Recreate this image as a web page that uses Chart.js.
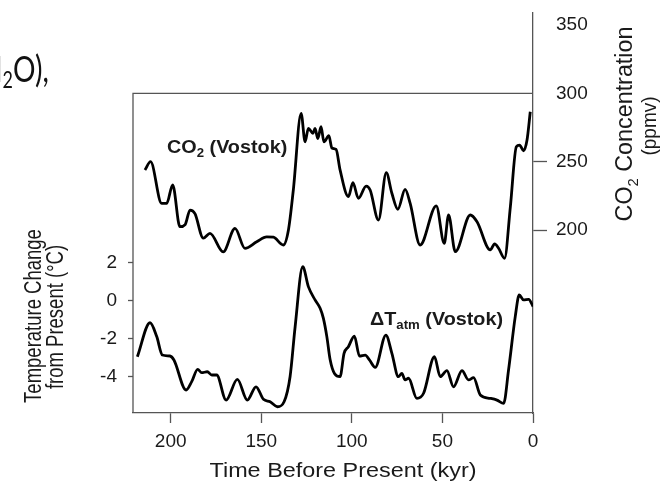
<!DOCTYPE html>
<html>
<head>
<meta charset="utf-8">
<script src="https://cdn.jsdelivr.net/npm/chart.js@4.4.1/dist/chart.umd.min.js"></script>
<style>
  html, body { margin: 0; padding: 0; background: #fff; }
  #wrap { width: 668px; height: 487px; }
</style>
</head>
<body>
<div id="wrap"><canvas id="chart" width="668" height="487"></canvas></div>
<script>
// tick values
const timeTicks = [0, 50, 100, 150, 200];
const tempTicks = [-4, -2, 0, 2];
const co2Ticks = [200, 250, 300, 350];

// CO2 (Vostok), kyr before present / ppmv
const co2Kyr = [214.2, 211.1, 205, 202.2, 198.9, 194.9, 192, 189.3, 186.6, 182, 178.3, 171, 164.5, 159,
    152.5, 147, 143.3, 137.8, 135, 132.3, 128, 125.8, 124, 121.5, 120.3, 118.8, 117, 115.4, 112.7, 111,
    108.7, 106.5, 101.9, 99.4, 96.4, 92.1, 89.9, 85.3, 81, 77.9, 74.6, 70.6, 67.8, 62.3, 53.4, 49, 46.6,
    42.9, 34.6, 30.9, 23.6, 21.2, 19, 15.7, 12.5, 9.2, 7.4, 5.2, 3.3, 1.5];
const co2Ppm = [243.9, 250, 219.5, 219.5, 233, 202.4, 204, 214.6, 212, 194, 197.6, 184, 201.2, 186.6,
    191.4, 195, 194.7, 189, 200, 229.3, 285.4, 264.6, 274.4, 270.8, 274.4, 267, 275.6, 264.5, 269, 260,
    259, 244, 224.4, 234.6, 223.2, 232.2, 229.3, 207.3, 242, 226.9, 215.2, 229.8, 219.5, 189, 217.6, 190.2, 211,
    184.1, 211, 206, 185.4, 189.8, 186.6, 179.3, 217, 261, 262.2, 258, 265.9, 286.6];

// Delta T atm (Vostok), kyr before present / degC
const tempKyr = [218.4, 211.4, 207.7, 204.6, 200.4, 198.2, 191.5, 188.4, 185.1, 182.9, 179.8, 177.3, 174.6,
    169.4, 163.2, 157.7, 152.9, 148.8, 145.1, 141.1, 137.4, 134.1, 131.3, 127.1, 124, 120.3, 117.5, 115.7,
    113.8, 112, 109.5, 106.5, 104.3, 101.9, 98.6, 95.8, 92.6, 90.3, 87.1, 81.2, 77.9, 74.3, 72.4, 70.6, 68.7,
    64.1, 60.4, 54.4, 51.2, 47.5, 43.9, 39.2, 35.6, 32.8, 29.1, 23.6, 19.9, 16.2, 13.5, 9.8, 7.6, 5.2, 2.4, 0];
const tempC = [-2.95, -1.16, -1.89, -2.86, -2.91, -3.12, -4.7, -4.26, -3.61, -3.79, -3.74, -3.91, -3.91,
    -5.23, -4.14, -5.23, -4.53, -5.19, -5.32, -5.58, -5.32, -4.0, -1.37, 1.79, 0.74, 0.04, -0.4, -0.93,
    -1.89, -3.1, -3.85, -4.0, -2.77, -2.42, -1.86, -2.91, -2.86, -3.12, -3.51, -1.81, -2.77, -4.0, -3.82, -4.17, -4.08,
    -5.14, -4.87, -2.95, -4.0, -3.68, -4.53, -3.68, -4.17, -4.05, -4.96, -5.14, -5.23, -5.4, -3.65, -0.84, 0.3, 0.04, 0.07, -0.3];

const FONT = '"Liberation Sans", Arial, Helvetica, sans-serif';
const INK = '#1a1a1a';
const AXIS = '#555';
const SX = 1.1; // the figure's lettering is a bit wide

function pairs(xs, ys) {
    return xs.map((x, i) => ({ x: x, y: ys[i] }));
}

function fixTicks(values) {
    return scale => { scale.ticks = values.map(v => ({ value: v })); };
}

// pin a scale's box size and drop the label overhang padding
function fixBox(size) {
    return scale => {
        if (scale.isHorizontal()) scale.height = size; else scale.width = size;
        scale.paddingTop = 0; scale.paddingBottom = 0;
        scale.paddingLeft = 0; scale.paddingRight = 0;
    };
}

// draw a row of text pieces (for subscripts), centred or from the left
function drawRuns(ctx, runs, align) {
    let total = 0;
    runs.forEach(r => { ctx.font = r.font; r.w = ctx.measureText(r.text).width; total += r.w; });
    let x = align === 'center' ? -total / 2 : 0;
    runs.forEach(r => {
        ctx.font = r.font;
        ctx.fillText(r.text, x, r.dy || 0);
        x += r.w;
    });
}

const frameAndText = {
    id: 'frameAndText',
    beforeDatasetsDraw(chart) {
        const ctx = chart.ctx;
        const area = chart.chartArea;
        const yTop = chart.scales.co2.getPixelForValue(300);
        ctx.save();
        ctx.strokeStyle = AXIS;
        ctx.lineWidth = 1.3;
        ctx.beginPath();
        ctx.moveTo(area.right, yTop);
        ctx.lineTo(area.left, yTop);
        ctx.lineTo(area.left, area.bottom);
        ctx.stroke();
        ctx.restore();
    },
    afterDraw(chart) {
        const ctx = chart.ctx;
        ctx.save();
        ctx.fillStyle = INK;
        ctx.textBaseline = 'alphabetic';
        ctx.textAlign = 'left';

        // x title
        ctx.save();
        ctx.translate(343, 477);
        ctx.scale(1.17, 1);
        drawRuns(ctx, [{ text: 'Time Before Present (kyr)', font: '20px ' + FONT }], 'center');
        ctx.restore();

        // left title, two lines
        const lf = '18.5px ' + FONT;
        ctx.save();
        ctx.translate(41, 316);
        ctx.scale(1.28, 1);
        ctx.rotate(-Math.PI / 2);
        drawRuns(ctx, [{ text: 'Temperature Change', font: lf }], 'center');
        ctx.restore();
        ctx.save();
        ctx.translate(63, 317);
        ctx.scale(1.28, 1);
        ctx.rotate(-Math.PI / 2);
        drawRuns(ctx, [{ text: 'from Present (\u00B0C)', font: lf }], 'center');
        ctx.restore();

        // right title, two lines
        ctx.save();
        ctx.translate(632, 124);
        ctx.scale(SX, 1);
        ctx.rotate(-Math.PI / 2);
        ctx.scale(1.06, 1);
        drawRuns(ctx, [
            { text: 'CO', font: '22px ' + FONT },
            { text: '2', font: '14px ' + FONT, dy: 5 },
            { text: ' Concentration', font: '22px ' + FONT }
        ], 'center');
        ctx.restore();
        ctx.save();
        ctx.translate(656, 126);
        ctx.scale(SX, 1);
        ctx.rotate(-Math.PI / 2);
        drawRuns(ctx, [{ text: '(ppmv)', font: '19px ' + FONT }], 'center');
        ctx.restore();

        // curve labels
        const bf = 'bold 18px ' + FONT;
        ctx.save();
        ctx.translate(167, 153);
        ctx.scale(SX, 1);
        drawRuns(ctx, [
            { text: 'CO', font: bf },
            { text: '2', font: 'bold 12px ' + FONT, dy: 4 },
            { text: ' (Vostok)', font: bf }
        ], 'left');
        ctx.restore();
        ctx.save();
        ctx.translate(370, 325);
        ctx.scale(SX, 1);
        drawRuns(ctx, [
            { text: '\u0394T', font: bf },
            { text: 'atm', font: 'bold 12px ' + FONT, dy: 4 },
            { text: ' (Vostok)', font: bf }
        ], 'left');
        ctx.restore();

        // leftover of the slide text, cut at the edge
        ctx.save();
        ctx.fillStyle = '#111';
        ctx.translate(0, 82);
        ctx.scale(0.78, 1);
        const big = '36px Lato, "Open Sans", sans-serif';
        const small = '23px Lato, "Open Sans", sans-serif';
        ctx.font = big;
        const wH = ctx.measureText('H').width;
        ctx.font = small;
        const w2 = ctx.measureText('2').width;
        ctx.translate(13 / 0.78 - wH - w2, 0);
        drawRuns(ctx, [
            { text: 'H', font: big },
            { text: '2', font: small, dy: 6 },
            { text: 'O),', font: big }
        ], 'left');
        ctx.restore();

        ctx.restore();
    }
};

const tickFont = { family: FONT, size: 19 };

new Chart(document.getElementById('chart'), {
    type: 'line',
    data: {
        datasets: [
            {
                label: 'CO2 (Vostok)',
                data: pairs(co2Kyr, co2Ppm),
                yAxisID: 'co2',
                borderColor: '#000',
                borderWidth: 2.8,
                pointRadius: 0,
                cubicInterpolationMode: 'monotone',
                fill: false
            },
            {
                label: 'Delta T atm (Vostok)',
                data: pairs(tempKyr, tempC),
                yAxisID: 'temp',
                borderColor: '#000',
                borderWidth: 2.8,
                pointRadius: 0,
                cubicInterpolationMode: 'monotone',
                fill: false
            }
        ]
    },
    options: {
        responsive: false,
        animation: false,
        layout: { padding: { top: 13, left: 0, right: 0, bottom: 0 } },
        plugins: {
            legend: { display: false },
            tooltip: { enabled: false }
        },
        scales: {
            x: {
                type: 'linear',
                reverse: true,
                min: 0,
                max: 220.8,
                afterBuildTicks: fixTicks(timeTicks),
                afterFit: fixBox(74),
                grid: { drawOnChartArea: false, tickLength: 10, tickColor: AXIS, tickWidth: 1.3 },
                border: { display: true, color: AXIS, width: 1.3 },
                ticks: { font: tickFont, color: INK, padding: 7, maxRotation: 0, autoSkip: false }
            },
            temp: {
                type: 'linear',
                position: 'left',
                min: -5.91,
                max: 15.14,
                afterBuildTicks: fixTicks(tempTicks),
                afterFit: fixBox(133),
                grid: { drawOnChartArea: false, tickLength: 5, tickColor: AXIS, tickWidth: 1.3 },
                border: { display: false },
                ticks: { font: tickFont, color: INK, padding: 11, autoSkip: false }
            },
            co2: {
                type: 'linear',
                position: 'right',
                min: 66,
                max: 358.9,
                afterBuildTicks: fixTicks(co2Ticks),
                afterFit: fixBox(135),
                grid: {
                    drawOnChartArea: false,
                    tickLength: 14,
                    tickWidth: 1.3,
                    tickColor: c => (c.tick && c.tick.value >= 300) ? 'rgba(0,0,0,0)' : AXIS
                },
                border: { display: true, color: AXIS, width: 1.3 },
                ticks: { font: tickFont, color: INK, padding: 9, autoSkip: false }
            }
        }
    },
    plugins: [frameAndText]
});
</script>
</body>
</html>
